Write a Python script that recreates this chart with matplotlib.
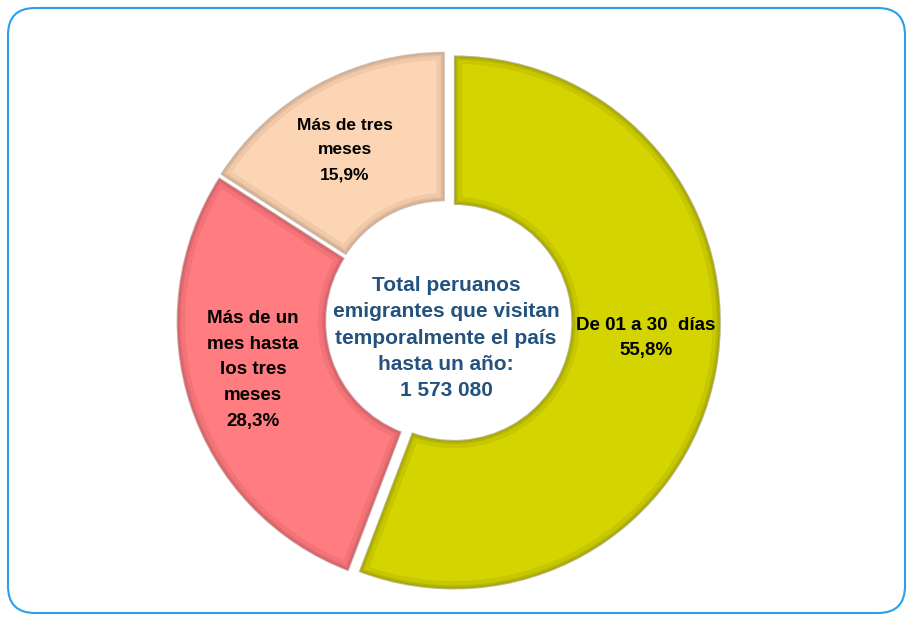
import matplotlib
matplotlib.use("Agg")
import matplotlib.pyplot as plt
from matplotlib.patches import FancyBboxPatch, Wedge

# datos
categorias = ["De 01 a 30  días", "Más de un\nmes hasta\nlos tres\nmeses", "Más de tres\nmeses"]
porcentajes = [55.8, 28.3, 15.9]
etiquetas_pct = ["55,8%", "28,3%", "15,9%"]
colores = ["#D4D400", "#FF7C80", "#FCD5B5"]
bordes = ["#6E6E00", "#9A3E42", "#9E7A60"]
texto_centro = "Total peruanos\nemigrantes que visitan\ntemporalmente el país\nhasta un año:\n1 573 080"

W, H = 907, 617
fig = plt.figure(figsize=(W / 100, H / 100), dpi=100)
ax = fig.add_axes([0, 0, 1, 1])

cx, cy = 446, H - 321
R = 267
ancho = 0.56

FAM = ["Liberation Sans Narrow", "Liberation Sans", "DejaVu Sans"]

# explode en unidades de datos (px)
wedges, _ = ax.pie(porcentajes, startangle=90, counterclock=False,
                   colors=colores, radius=R, center=(cx, cy),
                   explode=[8, 2.5, 2.5],
                   wedgeprops=dict(width=R * ancho, edgecolor="white", linewidth=1.5))

# borde interior oscuro, suavizado (efecto bisel)
for w, bc in zip(wedges, bordes):
    for lw, al in [(12, 0.12), (6, 0.18), (3, 0.25)]:
        rim = Wedge(w.center, w.r, w.theta1, w.theta2, width=w.width,
                    facecolor="none", edgecolor=bc, linewidth=lw, alpha=al, zorder=3)
        ax.add_patch(rim)
        rim.set_clip_path(w)

# etiquetas
kw = dict(ha="center", va="center", fontweight="bold",
          family=FAM, color="black", zorder=5)
ax.text(646, H - 338, categorias[0] + "\n" + etiquetas_pct[0],
        fontsize=13.5, linespacing=1.69, **kw)
ax.text(253, H - 370, categorias[1] + "\n" + etiquetas_pct[1],
        fontsize=13.5, linespacing=1.69, **kw)
ax.text(345, H - 150, categorias[2] + "\n" + etiquetas_pct[2],
        fontsize=12.5, linespacing=1.8, **kw)

ax.text(446, H - 338, texto_centro, ha="center", va="center", fontsize=15,
        fontweight="bold", family=FAM, linespacing=1.48, color="#23527F", zorder=5)

# marco redondeado
marco = FancyBboxPatch((8 + 27, 6 + 27 - 6 + 4), W - 8 - 2 - 54, H - 12 - 54,
                       boxstyle="round,pad=27", facecolor="none",
                       edgecolor="#2AA0E6", linewidth=1.5, zorder=0)
ax.add_patch(marco)

ax.set_xlim(0, W)
ax.set_ylim(0, H)
ax.set_aspect("auto")
ax.axis("off")

plt.savefig("out.png", dpi=100)
